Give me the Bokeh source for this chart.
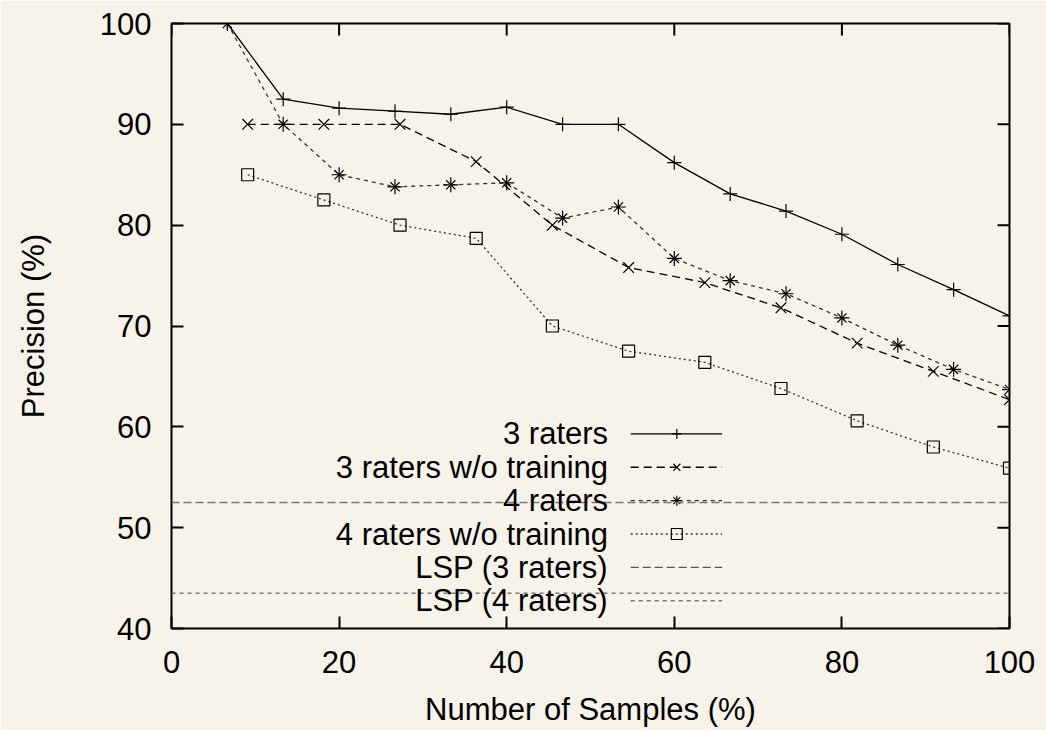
import math
from bokeh.plotting import figure
from bokeh.models import Range1d, FixedTicker, Span, Label
from bokeh.embed import file_html
from bokeh.resources import INLINE

# ---- data ----
x15 = [6.67, 13.33, 20, 26.67, 33.33, 40, 46.67, 53.33, 60, 66.67, 73.33, 80, 86.67, 93.33, 100]
x11 = [9.09, 18.18, 27.27, 36.36, 45.45, 54.55, 63.64, 72.73, 81.82, 90.91, 100]

raters3 = [100, 92.5, 91.6, 91.3, 91.0, 91.7, 90.0, 90.0, 86.2, 83.1, 81.4, 79.1, 76.1, 73.6, 71.0]
raters3_wo = [90.0, 90.0, 90.0, 86.3, 80.0, 75.8, 74.3, 71.8, 68.3, 65.5, 62.7]
raters4 = [100, 90.0, 85.0, 83.8, 84.0, 84.2, 80.7, 81.8, 76.7, 74.5, 73.2, 70.8, 68.1, 65.7, 63.7]
raters4_wo = [85.0, 82.5, 80.0, 78.7, 70.0, 67.5, 66.4, 63.8, 60.6, 58.0, 55.9]
lsp3 = 52.5
lsp4 = 43.5

legend_labels = ["3 raters", "3 raters w/o training", "4 raters",
                 "4 raters w/o training", "LSP (3 raters)", "LSP (4 raters)"]

x_ticks = [0, 20, 40, 60, 80, 100]
y_ticks = [40, 50, 60, 70, 80, 90, 100]

BG = "#f7f3e8"
FONT = "Liberation Sans"
FS = "31px"

p = figure(width=1046, height=730, x_range=Range1d(0, 100), y_range=Range1d(40, 100),
           output_backend="svg", toolbar_location=None,
           min_border_left=171, min_border_right=37, min_border_top=23, min_border_bottom=102,
           background_fill_color=BG, border_fill_color=BG)
p.grid.visible = False
p.outline_line_color = "black"
p.outline_line_width = 2

for ax in (p.xaxis[0], p.yaxis[0]):
    ax.axis_line_color = None
    ax.major_tick_in = 12
    ax.major_tick_out = 0
    ax.major_tick_line_width = 2
    ax.minor_tick_line_color = None
    ax.major_label_text_font = FONT
    ax.major_label_text_font_size = FS
    ax.major_label_text_color = "black"
    ax.axis_label_text_font = FONT
    ax.axis_label_text_font_size = FS
    ax.axis_label_text_font_style = "normal"
    ax.axis_label_text_color = "black"

p.xaxis.ticker = FixedTicker(ticks=x_ticks)
p.yaxis.ticker = FixedTicker(ticks=y_ticks)
p.xaxis.axis_label = "Number of Samples (%)"
p.yaxis.axis_label = "Precision (%)"
p.xaxis.major_label_standoff = 22
p.xaxis.axis_label_standoff = 16
p.yaxis.major_label_standoff = 20
p.yaxis.axis_label_standoff = 46

# mirror ticks on top and right (inward, 12 px)
p.ray(x=x_ticks, y=[100] * len(x_ticks), length=12, length_units="screen",
      angle=-math.pi / 2, line_color="black", line_width=2)
p.ray(x=[100] * len(y_ticks), y=y_ticks, length=12, length_units="screen",
      angle=math.pi, line_color="black", line_width=2)

# LSP reference lines
p.add_layout(Span(location=lsp3, dimension="width", line_color="#777777",
                  line_width=1.5, line_dash="8 4"))
p.add_layout(Span(location=lsp4, dimension="width", line_color="#777777",
                  line_width=1.5, line_dash="4 4"))

# series
p.line(x15, raters3, line_color="black", line_width=1.3)
p.scatter(x15, raters3, marker="cross", size=14, line_color="black", line_width=1.2)

p.line(x11, raters3_wo, line_color="black", line_width=1.3, line_dash="8 5")
p.scatter(x11, raters3_wo, marker="x", size=15, line_color="black", line_width=1.2)

p.line(x15, raters4, line_color="#333333", line_width=1.3, line_dash="4 4")
p.scatter(x15, raters4, marker="cross", size=15, line_color="black", line_width=1.2)
p.scatter(x15, raters4, marker="x", size=13, line_color="black", line_width=1.2)

p.line(x11, raters4_wo, line_color="#333333", line_width=1.3, line_dash="2 3")
p.scatter(x11, raters4_wo, marker="square", size=12, fill_color=None,
          line_color="black", line_width=1.2)

# legend (text right-aligned, sample to the right)
leg_text_x = 52.1
leg_x0, leg_x1, leg_xm = 54.8, 65.7, 60.3
leg_y0, leg_dy = 59.3, 3.31
styles = [
    dict(color="black", dash="solid", markers=["cross"]),
    dict(color="black", dash="8 5", markers=["x"]),
    dict(color="#333333", dash="4 4", markers=["cross", "x"]),
    dict(color="#333333", dash="2 3", markers=["square"]),
    dict(color="#555555", dash="8 4", markers=[]),
    dict(color="#777777", dash="4 4", markers=[]),
]
for i, (lab, st) in enumerate(zip(legend_labels, styles)):
    yy = leg_y0 - i * leg_dy
    p.add_layout(Label(x=leg_text_x, y=yy, text=lab, text_align="right",
                       text_baseline="middle", text_font=FONT, text_font_size=FS,
                       text_color="black"))
    p.line([leg_x0, leg_x1], [yy, yy], line_color=st["color"], line_width=1.3,
           line_dash=st["dash"])
    for m in st["markers"]:
        kw = dict(fill_color=None) if m == "square" else {}
        p.scatter([leg_xm], [yy], marker=m, size=10 if m != "square" else 11,
                  line_color="black", line_width=1.2, **kw)

open("out.html", "w").write(file_html(p, INLINE))
